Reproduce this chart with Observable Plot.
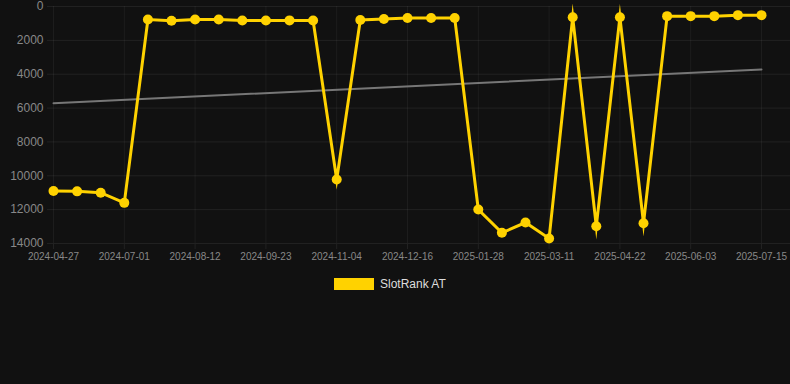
<!DOCTYPE html>
<html>
<head>
<meta charset="utf-8">
<script src="https://cdn.jsdelivr.net/npm/d3@7"></script>
<script src="https://cdn.jsdelivr.net/npm/@observablehq/plot@0.6"></script>
<style>
  html, body { margin: 0; padding: 0; background: #111111; }
  body { width: 790px; height: 384px; overflow: hidden; font-family: "Liberation Sans", Arial, Helvetica, sans-serif; }
  #legend { display: flex; align-items: center; padding-left: 334px; margin-top: 8px; height: 12px; }
  #legend .sw { width: 40px; height: 12px; background: #FFD200; }
  #legend .lb { margin-left: 6px; color: #dddddd; font-size: 12px; }
</style>
</head>
<body>
<div id="chart"></div>
<div id="legend"><span class="sw"></span><span class="lb">SlotRank AT</span></div>
<script>
const dates = [
  "2024-04-27","2024-05-19","2024-06-10","2024-07-01","2024-07-15","2024-07-29",
  "2024-08-12","2024-08-26","2024-09-09","2024-09-23","2024-10-07","2024-10-21",
  "2024-11-04","2024-11-18","2024-12-02","2024-12-16","2024-12-30","2025-01-14",
  "2025-01-28","2025-02-11","2025-02-25","2025-03-11","2025-03-25","2025-04-08",
  "2025-04-22","2025-05-06","2025-05-20","2025-06-03","2025-06-17","2025-07-01",
  "2025-07-15"
];
const ranks = [
  10900, 10920, 11000, 11600, 770, 845,
  770, 770, 830, 830, 820, 830,
  10220, 800, 740, 680, 680, 680,
  11990, 13370, 12760, 13700, 630, 12980,
  630, 12800, 570, 570, 570, 510,
  510
];
const xTickIndex = [0, 3, 6, 9, 12, 15, 18, 21, 24, 27, 30];
const yTicks = [0, 2000, 4000, 6000, 8000, 10000, 12000, 14000];
const seriesName = "SlotRank AT";

const data = dates.map((d, i) => ({i, date: d, rank: ranks[i]}));
const yellow = "#FFD200";

const chart = Plot.plot({
  width: 790,
  height: 270,
  marginTop: 6,
  marginBottom: 27,
  marginLeft: 47,
  marginRight: 0,
  style: {background: "#111111", color: "#888888", fontFamily: "'Liberation Sans', Arial, Helvetica, sans-serif", overflow: "visible"},
  x: {domain: [0, 30], insetLeft: 6, insetRight: 29, label: null},
  y: {domain: [0, 14000], reverse: true, label: null},
  marks: [
    Plot.gridY(yTicks, {stroke: "#ffffff", strokeOpacity: 0.07}),
    Plot.gridX(xTickIndex, {stroke: "#ffffff", strokeOpacity: 0.05}),
    Plot.axisY(yTicks, {tickSize: 0, tickPadding: 4, fontSize: 12, fill: "#888888", label: null, tickFormat: d => String(d)}),
    Plot.axisX(xTickIndex, {tickSize: 6, tickPadding: 3, fontSize: 10, fill: "#888888", stroke: "#222222", label: null, tickFormat: i => dates[i]}),
    Plot.linearRegressionY(data, {x: "i", y: "rank", ci: 0, stroke: "#777777", strokeWidth: 2}),
    Plot.line(data, {x: "i", y: "rank", stroke: yellow, strokeWidth: 3, strokeLinejoin: "miter", strokeMiterlimit: 10}),
    Plot.dot(data, {x: "i", y: "rank", r: 5, fill: yellow, stroke: "none"})
  ]
});
document.getElementById("chart").appendChild(chart);
</script>
</body>
</html>
